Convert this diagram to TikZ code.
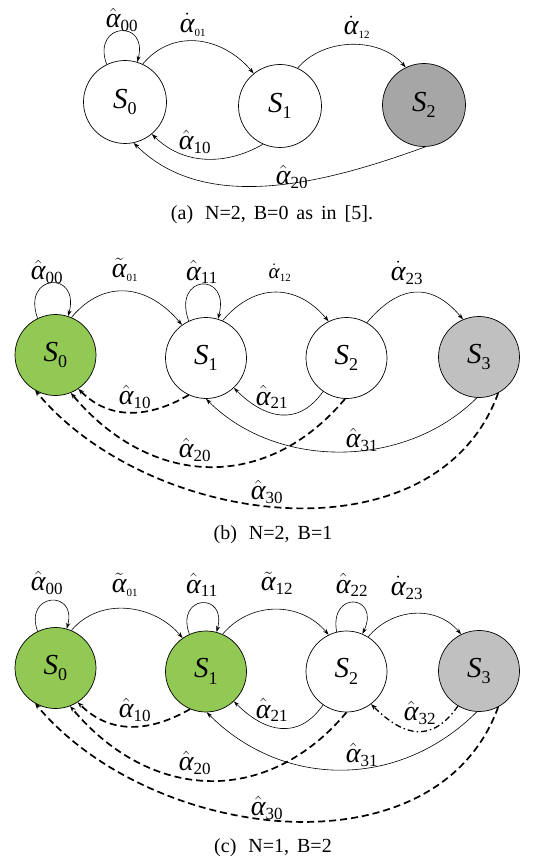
\documentclass[tikz,border=0pt]{standalone}
\usepackage{amsmath}
\usepackage[no-math]{fontspec}
\setmainfont{Liberation Serif}
\usepackage{xcolor}
\usepackage{tikz}
\usetikzlibrary{arrows.meta}
\definecolor{green2}{RGB}{146,200,84}
\definecolor{gray2}{RGB}{166,166,166}
\definecolor{gray3}{RGB}{192,192,192}
\newcommand{\ga}{\text{\itshape α}}
\newcommand{\rsub}[1]{\text{\fontsize{17}{17}\selectfont #1}}
\newcommand{\tsub}[1]{\text{\fontsize{11}{12}\selectfont #1}}
\newcommand{\sname}[1]{$\text{\itshape S}_{\raisebox{-3pt}{\fontsize{18}{18}\selectfont #1}}$}
\newcommand{\widespace}{\spaceskip=0.4em\relax}
\tikzset{
  statebox/.style={circle, draw, line width=0.7pt, minimum size=81pt,
    inner sep=0pt, fill=white, font=\fontsize{29}{32}\selectfont},
  ratelabel/.style={inner sep=0pt, font=\fontsize{28}{30}\selectfont},
  smalllabel/.style={inner sep=0pt, font=\fontsize{21}{24}\selectfont},
  captlabel/.style={inner sep=0pt, font=\fontsize{20}{24}\selectfont},
  flow/.style={-{Stealth[length=6pt,width=4pt]}, line width=0.6pt},
  dashedflow/.style={-{Stealth[length=6pt,width=4.5pt]}, line width=1.7pt,
    dash pattern=on 7pt off 4pt},
  dotflow/.style={-{Stealth[length=6pt,width=4.5pt]}, line width=1.3pt,
    dash pattern=on 6pt off 3pt on 1.5pt off 3pt}
}

\begin{document}
\begin{tikzpicture}[x=1pt, y=1pt]
\useasboundingbox (0,0) rectangle (537,-861);

\node[statebox, minimum size=83pt] (a0) at (125,-102) {\sname{0}};
\node[statebox, minimum size=83pt] (a1) at (280,-106) {\sname{1}};
\node[statebox, minimum size=83pt, fill=gray2] (a2) at (424,-105) {\sname{2}};

\draw[flow] (a0.116) to[out=110,in=75,looseness=3.75] (a0.73);
\draw[flow] (a0.65) to[out=50,in=130,looseness=1.1] (a1.129);
\draw[flow] (a1.65) to[out=50,in=130,looseness=0.95] (a2.116);
\draw[flow] (a1.246) to[out=210,in=315] (a0.310);
\draw[flow] (a2.272) to[out=200,in=315,looseness=0.9] (a0.282);

\node[ratelabel] (ra00) at (122,-20) {$\hat{\ga}_{\rsub{00}}$};
\node[ratelabel] (ra01) at (193,-25) {$\dot{\ga}_{\tsub{01}}$};
\node[ratelabel] (ra12) at (357,-27) {$\dot{\ga}_{\tsub{12}}$};
\node[ratelabel] (ra10) at (195,-142) {$\hat{\ga}_{\rsub{10}}$};
\node[ratelabel] (ra20) at (292,-177) {$\hat{\ga}_{\rsub{20}}$};
\node[captlabel] (capa) at (272,-215) {\widespace (a)\hspace{0.6em}N=2, B=0 as in [5].};

\node[statebox, fill=green2] (b0) at (55.5,-355) {\sname{0}};
\node[statebox] (b1) at (206,-358) {\sname{1}};
\node[statebox] (b2) at (346.5,-358) {\sname{2}};
\node[statebox, fill=gray3] (b3) at (479,-357) {\sname{3}};

\draw[flow] (b0.116) to[out=110,in=75,looseness=4] (b0.72);
\draw[flow] (b1.115) to[out=110,in=75,looseness=4.35] (b1.73);
\draw[flow] (b0.67) to[out=50,in=130,looseness=1.2] (b1.126);
\draw[flow] (b1.66) to[out=50,in=130,looseness=1.2] (b2.116);
\draw[flow] (b2.60) to[out=50,in=130,looseness=1.32] (b3.113);
\draw[dashedflow] (b1.245) to[out=210,in=315,looseness=1.05] (b0.304);
\draw[flow] (b2.235) to[out=235,in=315,looseness=1.25] (b1.313);
\draw[dashedflow] (b2.268) to[out=230,in=310,looseness=1.15] (b0.292);
\draw[flow] (b3.267) to[out=225,in=315,looseness=0.95] (b1.270);
\draw[dashedflow] (b3.298) to[out=250,in=310] (b0.240);

\node[ratelabel] (rb00) at (47,-272) {$\hat{\ga}_{\rsub{00}}$};
\node[ratelabel] (rb01) at (125,-270) {$\tilde{\ga}_{\tsub{01}}$};
\node[ratelabel] (rb11) at (202,-272) {$\hat{\ga}_{\rsub{11}}$};
\node[smalllabel] (rb12) at (280,-273) {$\dot{\ga}_{\tsub{12}}$};
\node[ratelabel] (rb23) at (407,-273) {$\dot{\ga}_{\rsub{23}}$};
\node[ratelabel] (rb10) at (135,-397) {$\hat{\ga}_{\rsub{10}}$};
\node[ratelabel] (rb21) at (272,-397) {$\hat{\ga}_{\rsub{21}}$};
\node[ratelabel] (rb31) at (362,-440) {$\hat{\ga}_{\rsub{31}}$};
\node[ratelabel] (rb20) at (195,-450) {$\hat{\ga}_{\rsub{20}}$};
\node[ratelabel] (rb30) at (267,-492) {$\hat{\ga}_{\rsub{30}}$};
\node[captlabel] (capb) at (273,-535) {\widespace (b)\hspace{0.6em}N=2, B=1};

\node[statebox, fill=green2] (c0) at (55.5,-668) {\sname{0}};
\node[statebox, fill=green2] (c1) at (206,-671.5) {\sname{1}};
\node[statebox] (c2) at (346.5,-671.5) {\sname{2}};
\node[statebox, fill=gray3] (c3) at (479,-671) {\sname{3}};

\draw[flow] (c0.116) to[out=110,in=75,looseness=3.6] (c0.74);
\draw[flow] (c1.114) to[out=110,in=75,looseness=3.95] (c1.75);
\draw[flow] (c2.104) to[out=100,in=65,looseness=4.25] (c2.67);
\draw[flow] (c0.67) to[out=50,in=130,looseness=1.02] (c1.125);
\draw[flow] (c1.66) to[out=50,in=130,looseness=1.05] (c2.116);
\draw[flow] (c2.58) to[out=50,in=130,looseness=1.05] (c3.116);
\draw[dashedflow] (c1.247) to[out=210,in=315,looseness=1.05] (c0.303);
\draw[flow] (c2.235) to[out=235,in=315,looseness=1.25] (c1.313);
\draw[dotflow] (c3.239) to[out=235,in=315,looseness=1.35] (c2.307);
\draw[dashedflow] (c2.270) to[out=230,in=310,looseness=1.15] (c0.291);
\draw[flow] (c3.267) to[out=225,in=315,looseness=1.03] (c1.271);
\draw[dashedflow] (c3.298) to[out=250,in=310] (c0.240);

\node[ratelabel] (rc00) at (47,-583) {$\hat{\ga}_{\rsub{00}}$};
\node[ratelabel] (rc01) at (125,-585) {$\tilde{\ga}_{\tsub{01}}$};
\node[ratelabel] (rc11) at (202,-585) {$\hat{\ga}_{\rsub{11}}$};
\node[ratelabel] (rc12) at (277,-583) {$\tilde{\ga}_{\rsub{12}}$};
\node[ratelabel] (rc22) at (352,-585) {$\hat{\ga}_{\rsub{22}}$};
\node[ratelabel] (rc23) at (407,-588) {$\dot{\ga}_{\rsub{23}}$};
\node[ratelabel] (rc10) at (135,-710) {$\hat{\ga}_{\rsub{10}}$};
\node[ratelabel] (rc21) at (272,-710) {$\hat{\ga}_{\rsub{21}}$};
\node[ratelabel] (rc32) at (420,-713) {$\hat{\ga}_{\rsub{32}}$};
\node[ratelabel] (rc31) at (362,-755) {$\hat{\ga}_{\rsub{31}}$};
\node[ratelabel] (rc20) at (195,-763) {$\hat{\ga}_{\rsub{20}}$};
\node[ratelabel] (rc30) at (267,-808) {$\hat{\ga}_{\rsub{30}}$};
\node[captlabel] (capc) at (273,-848) {\widespace (c)\hspace{0.6em}N=1, B=2};
\end{tikzpicture}
\end{document}
